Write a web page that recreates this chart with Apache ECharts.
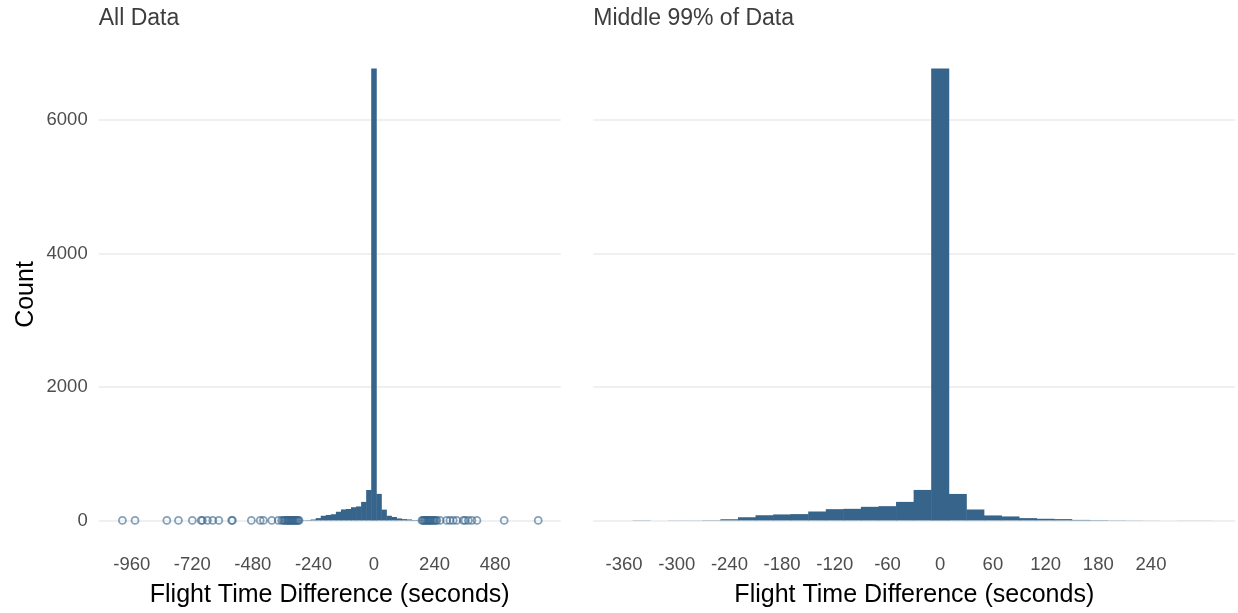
<!DOCTYPE html>
<html>
<head>
<meta charset="utf-8">
<script src="https://cdn.jsdelivr.net/npm/echarts@6/dist/echarts.min.js"></script>
<style>
  html, body { margin: 0; padding: 0; background: #ffffff; }
  #chart { width: 1238px; height: 613px; }
</style>
</head>
<body>
<div id="chart"></div>
<script>
// Histogram bins are 20 seconds wide; each entry is the centre of a bin.
const BIN_WIDTH = 20;

// Panel 1: all flights
const allBinCenters = [-300, -280, -260, -240, -220, -200, -180, -160, -140, -120, -100, -80, -60, -40, -20,
                       0, 20, 40, 60, 80, 100, 120, 140, 160, 180, 200, 220];
const allCounts = [2, 4, 6, 14, 35, 70, 82, 93, 130, 165, 172, 198, 210, 278, 456,
                   6770, 398, 162, 70, 52, 30, 20, 15, 7, 4, 3, 2];

// Outlying differences shown as open circles along the zero line
const outliersLow = [-997, -947, -821, -775, -720, -685, -680, -660, -639, -615, -564, -561, -486, -451, -438,
                     -405, -379, -366, -360, -355, -350, -346, -342, -338, -335, -331, -327, -323, -320, -316,
                     -312, -308, -304, -300, -297];
const outliersHigh = [190, 194, 198, 202, 206, 210, 214, 218, 222, 226, 230, 235, 240, 245, 249,
                      262, 288, 301, 314, 328, 354, 361, 374, 388, 408, 516, 651];

// Panel 2: middle 99% of flights
const midBinCenters = [-340, -320, -300, -280, -260, -240, -220, -200, -180, -160, -140, -120, -100, -80, -60, -40, -20,
                       0, 20, 40, 60, 80, 100, 120, 140, 160, 180, 200, 220, 240, 260, 280, 300];
const midCounts = [3, 0, 2, 2, 4, 18, 48, 78, 90, 95, 134, 169, 174, 204, 214, 278, 457,
                   6770, 397, 164, 75, 60, 35, 25, 20, 8, 5, 3, 2, 1, 0, 1, 1];

// Axis tick labels
const allTicks = [-960, -720, -480, -240, 0, 240, 480];
const midTicks = [-360, -300, -240, -180, -120, -60, 0, 60, 120, 180, 240];
const countTicks = [0, 2000, 4000, 6000];

const BAR_COLOR = '#36648B';
const FONT = "'Liberation Sans', Arial, sans-serif";

function binData(centers, counts) {
  return centers.map((c, i) => [c, counts[i]]);
}

// One filled rectangle per bin; a quarter-pixel overlap hides seams between neighbours
function renderBin(params, api) {
  const c = api.value(0);
  const n = api.value(1);
  if (!n) return null;
  const p0 = api.coord([c - BIN_WIDTH / 2, n]);
  const p1 = api.coord([c + BIN_WIDTH / 2, 0]);
  return {
    type: 'rect',
    shape: { x: p0[0] - 0.25, y: p0[1], width: p1[0] - p0[0] + 0.5, height: p1[1] - p0[1] },
    style: { fill: BAR_COLOR }
  };
}

const chart = echarts.init(document.getElementById('chart'), null, { renderer: 'canvas' });

const tickText = { color: '#4d4d4d', fontSize: 18.5, fontFamily: FONT };
const axisNameText = { color: '#000000', fontSize: 25, fontFamily: FONT };
const gridLine = { show: true, lineStyle: { color: '#ebebeb', width: 1.6 } };

function xAxis(gridIndex, min, max, ticks) {
  return {
    type: 'value', gridIndex, min, max,
    axisLine: { show: false },
    axisTick: { show: false, customValues: ticks },
    axisLabel: { customValues: ticks, margin: 12, formatter: v => String(v), ...tickText },
    splitLine: { show: false },
    name: 'Flight Time Difference (seconds)',
    nameLocation: 'middle', nameGap: 40,
    nameTextStyle: axisNameText
  };
}

function yAxis(gridIndex, showLabels) {
  return {
    type: 'value', gridIndex, min: -338, max: 7108,
    axisLine: { show: false },
    axisTick: { show: false, customValues: countTicks },
    axisLabel: { show: showLabels, customValues: countTicks, margin: 11, formatter: v => String(v), ...tickText },
    splitLine: gridLine,
    name: showLabels ? 'Count' : '',
    nameLocation: 'middle', nameGap: 60,
    nameTextStyle: axisNameText
  };
}

chart.setOption({
  animation: false,
  backgroundColor: '#ffffff',
  textStyle: { fontFamily: FONT },
  grid: [
    { left: 98.7, top: 46, width: 462, height: 499 },
    { left: 593.3, top: 46, width: 642, height: 499 }
  ],
  xAxis: [
    xAxis(0, -1091, 740, allTicks),
    xAxis(1, -395, 336, midTicks)
  ],
  yAxis: [yAxis(0, true), yAxis(1, false)],
  graphic: [
    { type: 'text', x: 98.7, y: 19, style: { text: 'All Data', fill: '#3d3d3d', fontSize: 23, fontFamily: FONT, verticalAlign: 'middle' } },
    { type: 'text', x: 593.3, y: 19, style: { text: 'Middle 99% of Data', fill: '#3d3d3d', fontSize: 23, fontFamily: FONT, verticalAlign: 'middle' } }
  ],
  series: [
    {
      type: 'custom', xAxisIndex: 0, yAxisIndex: 0,
      renderItem: renderBin, data: binData(allBinCenters, allCounts), z: 2
    },
    {
      type: 'scatter', xAxisIndex: 0, yAxisIndex: 0,
      data: outliersLow.concat(outliersHigh).map(v => [v, 0]),
      symbol: 'circle', symbolSize: 7,
      itemStyle: { color: 'rgba(255,255,255,0)', borderColor: 'rgba(54,100,139,0.75)', borderWidth: 1.8 },
      z: 3
    },
    {
      type: 'custom', xAxisIndex: 1, yAxisIndex: 1,
      renderItem: renderBin, data: binData(midBinCenters, midCounts), z: 2
    }
  ]
});
</script>
</body>
</html>
